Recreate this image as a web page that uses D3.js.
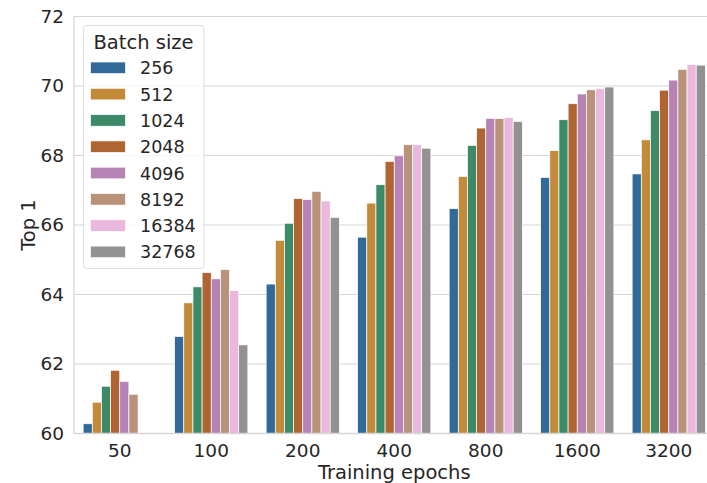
<!DOCTYPE html>
<html>
<head>
<meta charset="utf-8">
<script src="https://cdnjs.cloudflare.com/ajax/libs/d3/7.8.5/d3.min.js"></script>
<style>
  body { margin: 0; background: #fff; }
  svg { display: block; font-family: "DejaVu Sans", sans-serif; }
</style>
</head>
<body>
<div id="chart"></div>
<script>
// epochs along the x axis, batch sizes as hue
const epochs = ['50', '100', '200', '400', '800', '1600', '3200']
const batchSizes = ['256', '512', '1024', '2048', '4096', '8192', '16384', '32768']
// Top 1 per batch size, one value per epoch (null = not run)
const top1_256 = [60.28, 62.79, 64.30, 65.65, 66.47, 67.37, 67.47]
const top1_512 = [60.90, 63.76, 65.56, 66.63, 67.40, 68.14, 68.45]
const top1_1024 = [61.36, 64.22, 66.05, 67.16, 68.29, 69.03, 69.29]
const top1_2048 = [61.82, 64.63, 66.76, 67.83, 68.79, 69.49, 69.88]
const top1_4096 = [61.50, 64.45, 66.73, 67.99, 69.07, 69.77, 70.17]
const top1_8192 = [61.13, 64.72, 66.97, 68.31, 69.06, 69.89, 70.48]
const top1_16384 = [null, 64.11, 66.69, 68.31, 69.09, 69.92, 70.62]
const top1_32768 = [null, 62.55, 66.22, 68.21, 68.98, 69.97, 70.60]
const yTicks = [60, 62, 64, 66, 68, 70, 72]

const series = [top1_256, top1_512, top1_1024, top1_2048, top1_4096, top1_8192, top1_16384, top1_32768]

// muted colorblind-ish palette as it shows in the picture
const palette = ['#316a98', '#c38a3a', '#3d8a68', '#b06431', '#b583b6', '#b8937a', '#e9b8dc', '#929292']

const width = 707, height = 483
const plotLeft = 74, plotRight = 714.5, plotTop = 16.5, plotBottom = 433.5
const textColor = '#262626', gridColor = '#d6d6d6'

const svg = d3.select('#chart').append('svg')
    .attr('width', width)
    .attr('height', height)

const x = d3.scaleBand().domain(epochs).range([plotLeft, plotRight])
const hue = d3.scaleBand().domain(batchSizes).range([0, x.bandwidth() * 0.8])
const y = d3.scaleLinear().domain([60, 72]).range([plotBottom, plotTop])

// grid
svg.append('g')
    .selectAll('line')
    .data(yTicks)
    .enter()
    .append('line')
    .attr('x1', plotLeft).attr('x2', plotRight)
    .attr('y1', d => y(d)).attr('y2', d => y(d))
    .attr('stroke', gridColor)
    .attr('stroke-width', 1.1)

// bars
const rows = []
series.forEach((vals, i) => vals.forEach((v, j) => {
    if (v != null) rows.push({ epoch: epochs[j], batch: batchSizes[i], value: v, i })
}))

svg.append('g')
    .selectAll('rect')
    .data(rows)
    .enter()
    .append('rect')
    .attr('x', d => x(d.epoch) + x.bandwidth() * 0.1 + hue(d.batch))
    .attr('y', d => y(d.value))
    .attr('width', hue.bandwidth())
    .attr('height', d => y(60) - y(d.value))
    .attr('fill', d => palette[d.i])
    .attr('stroke', '#fff')
    .attr('stroke-width', 0.7)

// spines
svg.append('line')
    .attr('x1', plotLeft).attr('x2', plotLeft).attr('y1', plotTop).attr('y2', plotBottom)
    .attr('stroke', gridColor).attr('stroke-width', 1.3)
svg.append('line')
    .attr('x1', plotLeft).attr('x2', plotRight).attr('y1', plotBottom).attr('y2', plotBottom)
    .attr('stroke', gridColor).attr('stroke-width', 1.3)

// axes
const xAxis = d3.axisBottom(x).tickSize(0).tickPadding(10)
const yAxis = d3.axisLeft(y).tickValues(yTicks).tickSize(0).tickPadding(10)

const gx = svg.append('g')
    .attr('transform', `translate(0, ${plotBottom})`)
    .call(xAxis)
gx.select('.domain').remove()
gx.selectAll('text').attr('font-size', 18.5).attr('fill', textColor)
    .attr('font-family', '"DejaVu Sans", sans-serif')

const gy = svg.append('g')
    .attr('transform', `translate(${plotLeft}, 0)`)
    .call(yAxis)
gy.select('.domain').remove()
gy.selectAll('text').attr('font-size', 18.5).attr('fill', textColor)
    .attr('font-family', '"DejaVu Sans", sans-serif')

svg.append('text')
    .attr('x', (plotLeft + plotRight) / 2)
    .attr('y', 479)
    .attr('text-anchor', 'middle')
    .attr('font-size', 19.5)
    .attr('fill', textColor)
    .text('Training epochs')

svg.append('text')
    .attr('transform', `translate(35, ${(plotTop + plotBottom) / 2}) rotate(-90)`)
    .attr('text-anchor', 'middle')
    .attr('font-size', 19.5)
    .attr('fill', textColor)
    .text('Top 1')

// legend
const legend = svg.append('g')
legend.append('rect')
    .attr('x', 83.5).attr('y', 25.5)
    .attr('width', 120.5).attr('height', 243)
    .attr('rx', 3)
    .attr('fill', 'rgba(255,255,255,0.8)')
    .attr('stroke', '#dcdcdc')
    .attr('stroke-width', 1)
legend.append('text')
    .attr('x', 143.5).attr('y', 48.5)
    .attr('text-anchor', 'middle')
    .attr('font-size', 19.5)
    .attr('fill', textColor)
    .text('Batch size')

const entries = legend.selectAll('g.entry')
    .data(batchSizes)
    .enter()
    .append('g')
    .attr('class', 'entry')
    .attr('transform', (d, i) => `translate(0, ${67.8 + i * 26.3})`)
entries.append('rect')
    .attr('x', 90.5).attr('y', -5.8)
    .attr('width', 35).attr('height', 11.6)
    .attr('fill', (d, i) => palette[i])
    .attr('stroke', '#fff').attr('stroke-width', 0.7)
entries.append('text')
    .attr('x', 140).attr('y', 6.5)
    .attr('font-size', 17.5)
    .attr('fill', textColor)
    .text(d => d)
</script>
</body>
</html>
